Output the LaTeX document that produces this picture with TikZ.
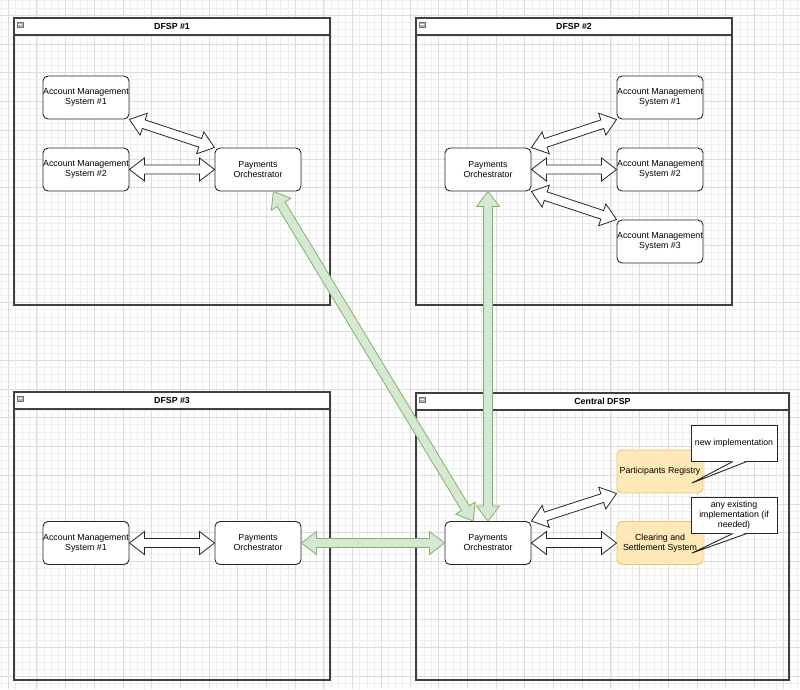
\documentclass[tikz,border=0pt]{standalone}
\usepackage{fontspec}
\setmainfont{Liberation Sans}
\usetikzlibrary{calc}

\definecolor{gridmajor}{HTML}{DCDCDC}
\definecolor{gridminor}{HTML}{EEEEEE}
\definecolor{greenfill}{HTML}{D5E8D4}
\definecolor{greenline}{HTML}{82B366}
\definecolor{orangefill}{HTML}{FFE8B8}
\definecolor{orangeline}{HTML}{F0C36D}

% swimlane: name, x1, y1, x2, y2, title
\newcommand{\pool}[6]{%
  \draw[poolline] (#2,#3) rectangle (#4,#5);
  \draw[poolline, fill=white] (#2,#3) rectangle (#4,#3+17);
  \filldraw[fill=black!30, draw=black!55, line width=0.4pt] (#2+3,#3+4.5) rectangle (#2+9,#3+9);
  \draw[white, line width=0.6pt] (#2+4.2,#3+6.75) -- (#2+7.8,#3+6.75);
  \node[pooltitle] (#1) at ({(#2+#4)/2},#3+8.5) {#6};
}

% block arrow with two heads: style, from, to
\newcommand{\flexarrow}[3][]{%
  \draw[blockarrow,#1] let \p1=($(#3)-(#2)$), \n1={atan2(\y1,\x1)}, \n2={veclen(\x1,\y1)} in
    [shift={(#2)}, rotate=\n1]
    (0pt,0pt) -- (15pt,11.5pt) -- (15pt,4.5pt) -- ({\n2-15pt},4.5pt) -- ({\n2-15pt},11.5pt)
    -- ({\n2+0pt},0pt) -- ({\n2-15pt},-11.5pt) -- ({\n2-15pt},-4.5pt) -- (15pt,-4.5pt)
    -- (15pt,-11.5pt) -- cycle;
}

\begin{document}
\begin{tikzpicture}[x=1pt, y=-1pt,
    poolline/.style={draw=black!75, line width=1.2pt},
    pooltitle/.style={font=\fontsize{8.8}{10}\selectfont\bfseries, inner sep=0pt},
    box/.style={draw=black!85, line width=0.9pt, rounded corners=5pt, fill=white,
      minimum width=86pt, minimum height=43pt, align=center, inner sep=0pt,
      font=\fontsize{8.8}{10}\selectfont},
    newbox/.style={box, fill=orangefill, draw=orangeline},
    note/.style={draw=black!85, line width=0.9pt, fill=white, minimum width=86pt,
      minimum height=36pt, align=center, inner sep=0pt, font=\fontsize{8.8}{10}\selectfont},
    blockarrow/.style={draw=black!85, fill=white, line width=0.8pt},
    greenarrow/.style={draw=greenline, fill=greenfill}]

\useasboundingbox (0,0) rectangle (800,689);

% background grid
\foreach \k in {0,...,111}
  \draw[gridminor, line width=0.4pt] ({0.825+\k*7.175},0) -- ({0.825+\k*7.175},689);
\foreach \k in {0,...,95}
  \draw[gridminor, line width=0.4pt] (0,{0.625+\k*7.1875}) -- (800,{0.625+\k*7.1875});
\foreach \k in {0,...,27}
  \draw[gridmajor, line width=0.5pt] ({8+\k*28.7},0) -- ({8+\k*28.7},689);
\foreach \k in {0,...,23}
  \draw[gridmajor, line width=0.5pt] (0,{15+\k*28.75}) -- (800,{15+\k*28.75});

% containers
\pool{t1}{14}{18}{330}{305}{DFSP \#1}
\pool{t2}{416}{18}{732}{305}{DFSP \#2}
\pool{t3}{14}{392}{330}{680}{DFSP \#3}
\pool{tc}{416}{393}{789}{680}{Central DFSP}

% DFSP #1
\node[box] (ams11) at (86,97.5) {Account Management\\System \#1};
\node[box] (ams12) at (86,169.5) {Account Management\\System \#2};
\node[box] (po1) at (258,169.5) {Payments\\Orchestrator};

% DFSP #2
\node[box] (po2) at (488,169.5) {Payments\\Orchestrator};
\node[box] (ams21) at (660,97.5) {Account Management\\System \#1};
\node[box] (ams22) at (660,169.5) {Account Management\\System \#2};
\node[box] (ams23) at (660,241.5) {Account Management\\System \#3};

% DFSP #3
\node[box] (ams31) at (86,543) {Account Management\\System \#1};
\node[box] (po3) at (258,543) {Payments\\Orchestrator};

% Central DFSP
\node[box] (pocen) at (488,543) {Payments\\Orchestrator};
\node[newbox] (pr) at (660,471.5) {Participants Registry};
\node[newbox] (cs) at (660,543) {Clearing and\\Settlement System};

% local connections
\flexarrow{ams11.south east}{po1.north west}
\flexarrow{ams12.east}{po1.west}
\flexarrow{po2.north east}{ams21.south west}
\flexarrow{po2.east}{ams22.west}
\flexarrow{po2.south east}{ams23.north west}
\flexarrow{ams31.east}{po3.west}
\flexarrow{pocen.north east}{pr.south west}
\flexarrow{pocen.east}{cs.west}

% links to the central DFSP
\flexarrow[greenarrow]{po1.-55}{pocen.124}
\flexarrow[greenarrow]{po2.south}{pocen.north}
\flexarrow[greenarrow]{po3.east}{pocen.west}

% callouts
\node[note] (note1) at (734,443) {new implementation};
\coordinate (tip1) at (692,483);
\fill[white] ($(note1.south)+(-1,-1)$) -- (tip1) -- ($(note1.south)+(13,-1)$) -- cycle;
\draw[black!85, line width=0.9pt] ($(note1.south)+(-1,0)$) -- (tip1) -- ($(note1.south)+(13,0)$);

\node[note] (note2) at (734,515) {any existing\\implementation (if\\needed)};
\coordinate (tip2) at (692,553);
\fill[white] ($(note2.south)+(-1,-1)$) -- (tip2) -- ($(note2.south)+(13,-1)$) -- cycle;
\draw[black!85, line width=0.9pt] ($(note2.south)+(-1,0)$) -- (tip2) -- ($(note2.south)+(13,0)$);

\end{tikzpicture}
\end{document}
